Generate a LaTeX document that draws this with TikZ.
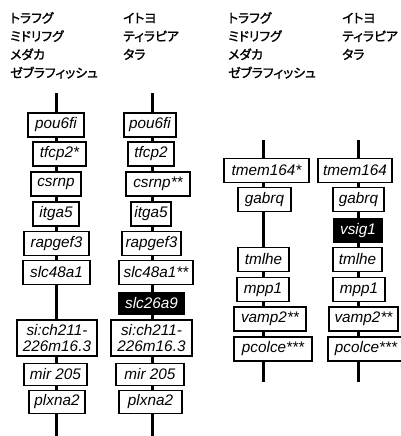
\documentclass[tikz,border=0pt]{standalone}
\usepackage{fontspec}
\setmainfont{Liberation Sans}
\newfontfamily\jpfont[FakeBold=1.6, RawFeature=+palt]{Noto Sans CJK JP}
\begin{document}
\begin{tikzpicture}[x=1pt,y=-1pt,
  gene/.style={draw=black, line width=1.9pt, fill=white, inner sep=0pt,
    minimum height=24pt, align=center,
    font=\fontsize{15.3}{15.5}\selectfont\itshape, text=black},
  blk/.style={gene, fill=black, text=white},
  trunk/.style={line width=3pt},
  sp/.style={anchor=base west, inner sep=0pt, font=\fontsize{12.8}{14}\selectfont\jpfont}]
\useasboundingbox (0,0) rectangle (400,436);
% species labels
\node[sp] (s11) at (10,22.8) {トラフグ};
\node[sp] (s12) at (10,41) {ミドリフグ};
\node[sp] (s13) at (10,59.3) {メダカ};
\node[sp] (s14) at (10,77.6) {ゼブラフィッシュ};
\node[sp] (s21) at (123,22.8) {イトヨ};
\node[sp] (s22) at (123,41) {ティラピア};
\node[sp] (s23) at (123,59.3) {タラ};
\node[sp] (s31) at (228,22.8) {トラフグ};
\node[sp] (s32) at (228,41) {ミドリフグ};
\node[sp] (s33) at (228,59.3) {メダカ};
\node[sp] (s34) at (228,77.6) {ゼブラフィッシュ};
\node[sp] (s41) at (342,22.8) {イトヨ};
\node[sp] (s42) at (342,41) {ティラピア};
\node[sp] (s43) at (342,59.3) {タラ};
% trunks
\coordinate (ta) at (56,93);  \coordinate (ea) at (56,436);
\coordinate (tb) at (152,93); \coordinate (eb) at (152,436);
\coordinate (tc) at (263,140); \coordinate (ec) at (263,382);
\coordinate (td) at (358,140); \coordinate (ed) at (358,382);
\draw[trunk] (ta) -- (ea);
\draw[trunk] (tb) -- (eb);
\draw[trunk] (tc) -- (ec);
\draw[trunk] (td) -- (ed);
% column 1
\node[gene, minimum width=56pt] (a1) at (56,125) {pou6fi};
\node[gene, minimum width=53pt] (a2) at (59.5,154) {tfcp2*};
\node[gene, minimum width=50pt] (a3) at (56,184) {csrnp};
\node[gene, minimum width=46pt] (a4) at (56,214) {itga5};
\node[gene, minimum width=65pt] (a5) at (56.5,243.5) {rapgef3};
\node[gene, minimum width=67pt] (a6) at (56.5,272.5) {slc48a1};
\node[gene, minimum width=80pt, minimum height=36pt] (a7) at (57,338) {si:ch211-\\226m16.3};
\node[gene, minimum width=63pt, minimum height=22pt] (a8) at (55.5,374.5) {mir 205};
\node[gene, minimum width=56pt, minimum height=23pt] (a9) at (57,402) {plxna2};
% column 2
\node[gene, minimum width=52pt] (b1) at (150,125) {pou6fi};
\node[gene, minimum width=46pt] (b2) at (151,154) {tfcp2};
\node[gene, minimum width=64pt] (b3) at (158,184) {csrnp**};
\node[gene, minimum width=40pt] (b4) at (151,214) {itga5};
\node[gene, minimum width=59pt] (b5) at (151.5,243.5) {rapgef3};
\node[gene, minimum width=74pt] (b6) at (156,272.5) {slc48a1**};
\node[blk, minimum width=65pt, minimum height=22pt] (b7) at (151.5,303.5) {slc26a9};
\node[gene, minimum width=81pt, minimum height=36pt] (b8) at (151.5,338) {si:ch211-\\226m16.3};
\node[gene, minimum width=68pt, minimum height=22pt] (b9) at (150,374.5) {mir 205};
\node[gene, minimum width=63pt, minimum height=23pt] (b10) at (150.5,402) {plxna2};
% column 3
\node[gene, minimum width=85pt] (c1) at (266.5,170.5) {tmem164*};
\node[gene, minimum width=53pt] (c2) at (264.5,199.5) {gabrq};
\node[gene, minimum width=51pt] (c3) at (263.5,259.5) {tmlhe};
\node[gene, minimum width=52pt] (c4) at (263,289.5) {mpp1};
\node[gene, minimum width=72pt] (c5) at (270,319) {vamp2**};
\node[gene, minimum width=78pt] (c6) at (273,349) {pcolce***};
% column 4
\node[gene, minimum width=74pt] (d1) at (355,170.5) {tmem164};
\node[gene, minimum width=51pt] (d2) at (358.5,199.5) {gabrq};
\node[blk, minimum width=48pt, minimum height=23pt] (d3) at (358,230.5) {vsig1};
\node[gene, minimum width=49pt] (d4) at (357.5,259.5) {tmlhe};
\node[gene, minimum width=52pt] (d5) at (359,289.5) {mpp1};
\node[gene, minimum width=69pt] (d6) at (363.5,319) {vamp2**};
\node[gene, minimum width=76pt] (d7) at (366,349) {pcolce***};
\end{tikzpicture}
\end{document}
